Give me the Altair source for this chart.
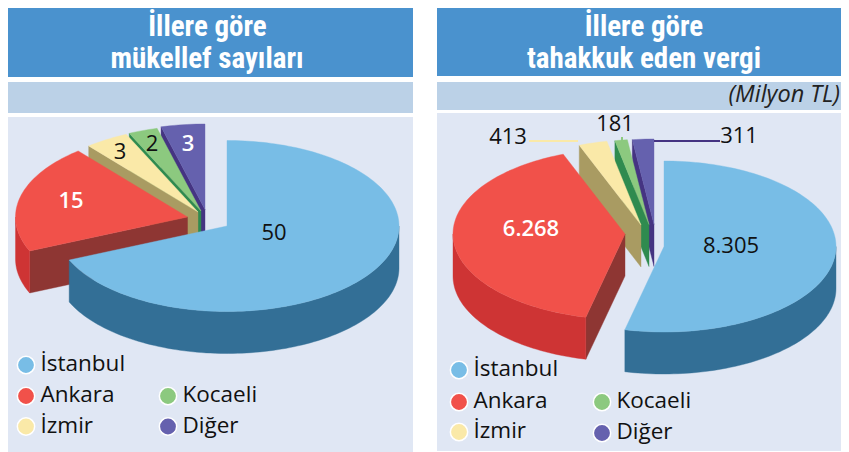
import math
import altair as alt

categories = ["İstanbul", "Ankara", "İzmir", "Kocaeli", "Diğer"]
taxpayers = [50, 15, 3, 2, 3]
assessed_tax = [8305, 6268, 413, 181, 311]
taxpayer_labels = ["50", "15", "3", "2", "3"]
assessed_labels = ["8.305", "6.268", "413", "181", "311"]
title_left = ["İllere göre", "mükellef sayıları"]
title_right = ["İllere göre", "tahakkuk eden vergi"]
unit_label = "(Milyon TL)"

# styles
top_colors = ["#78BDE6", "#F1514A", "#FAE9A8", "#8CC97F", "#6561AE"]
wall_colors = ["#336F96", "#CE3434", "#A99B62", "#2F8B4F", "#453482"]
cut_colors = ["#336F96", "#8E3633", "#A99B62", "#2F8B4F", "#453482"]

# layout (page pixels)
RX, RY, DEPTH = 172, 85.5, 42
left_apex = [(227, 226), (187.5, 217), (198, 212), (201, 211), (205, 209.5)]
right_apex = [(664, 246.5), (625, 234), (641, 225), (649, 224.5), (654, 224.5)]
left_label_pos = [(274, 233), (71, 201), (120, 152), (152, 144), (188, 144)]
right_label_pos = [(731, 246), (531, 229), (508, 137), (615, 124), (739, 136)]
left_label_colors = ["#111111", "white", "#111111", "#111111", "white"]
right_label_colors = ["#111111", "white", "#111111", "#111111", "#111111"]
left_legend = [(26, 365), (26, 396), (26, 426.5), (168, 396), (168, 426.5)]
right_legend = [(459, 370), (459, 402), (459, 432), (602, 402), (602, 433)]
panels = [
    (0, 413, 1, 77, "#4A92CE"), (0, 413, 82, 113, "#BBD1E7"), (0, 413, 117, 452, "#E0E7F4"),
    (437, 849, 1, 76, "#4A92CE"), (437, 849, 82, 110, "#BBD1E7"), (437, 849, 113, 451, "#E0E7F4"),
]
leaders = [(529, 578, 141, 141, "#FAE9A8"), (622, 622, 137, 142, "#8CC97F"), (654, 720, 141, 141, "#453482")]


def rim(apex, t):
    return (apex[0] + RX * math.sin(t), apex[1] - RY * math.cos(t))


def arc_pts(apex, a, b):
    n = max(2, int(abs(b - a) / math.radians(1.5)) + 1)
    return [rim(apex, a + (b - a) * i / n) for i in range(n + 1)]


def feature(pts, color):
    ring = [[round(x, 2), round(y, 2)] for x, y in pts]
    ring.append(ring[0])
    return {"type": "Feature", "properties": {"color": color},
            "geometry": {"type": "Polygon", "coordinates": [ring]}}


def pie_features(values, apexes):
    total = sum(values)
    feats = []
    angles = []
    t = 0.0
    for v in values:
        angles.append((t, t + 2 * math.pi * v / total))
        t += 2 * math.pi * v / total
    for i in reversed(range(len(values))):
        a, b = angles[i]
        ap = apexes[i]
        if a > math.pi:  # the cut face on the start side looks at the viewer
            r = rim(ap, a)
            feats.append(feature([ap, r, (r[0], r[1] + DEPTH), (ap[0], ap[1] + DEPTH)], cut_colors[i]))
        lo, hi = max(a, math.pi / 2), min(b, 3 * math.pi / 2)
        if lo < hi:
            pts = arc_pts(ap, lo, hi)
            feats.append(feature(pts + [(x, y + DEPTH) for x, y in reversed(pts)], wall_colors[i]))
        feats.append(feature([ap] + arc_pts(ap, a, b), top_colors[i]))
    return feats


features = pie_features(taxpayers, left_apex) + pie_features(assessed_tax, right_apex)

X = alt.Scale(domain=[8, 841], range=[0, 833], nice=False, zero=False)
Y = alt.Scale(domain=[8, 452], range=[0, 444], nice=False, zero=False)


def xe(f="x"):
    return alt.X(f"{f}:Q", scale=X, axis=None)


def ye(f="y"):
    return alt.Y(f"{f}:Q", scale=Y, axis=None)


panel_rows = [dict(x=max(a, 8), x2=min(b, 841), y=max(c, 8), y2=d, c=e) for a, b, c, d, e in panels]
panel_layer = alt.Chart(alt.Data(values=panel_rows)).mark_rect(strokeWidth=0).encode(
    x=xe(), x2="x2:Q", y=ye(), y2="y2:Q", color=alt.Color("c:N", scale=None))

pie_layer = alt.Chart(alt.Data(values=features)).mark_geoshape(strokeWidth=0.4).encode(
    color=alt.Color(field="properties.color", type="nominal", scale=None),
    stroke=alt.Color(field="properties.color", type="nominal", scale=None),
).project(type="identity", scale=1, translate=[-8, -8])

leader_rows = [dict(x=a, x2=b, y=c, y2=d, c=e) for a, b, c, d, e in leaders]
leader_layer = alt.Chart(alt.Data(values=leader_rows)).mark_rule(strokeWidth=2).encode(
    x=xe(), x2="x2:Q", y=ye(), y2="y2:Q", color=alt.Color("c:N", scale=None))

label_rows = [dict(t=s, x=p[0], y=p[1], c=c) for s, p, c in zip(taxpayer_labels, left_label_pos, left_label_colors)]
label_rows += [dict(t=s, x=p[0], y=p[1], c=c) for s, p, c in zip(assessed_labels, right_label_pos, right_label_colors)]
dark_rows = [r for r in label_rows if r["c"] != "white"]
light_rows = [r for r in label_rows if r["c"] == "white"]
label_layer = alt.Chart(alt.Data(values=dark_rows)).mark_text(
    font="Open Sans", fontSize=22, align="center", baseline="middle").encode(
    x=xe(), y=ye(), text="t:N", color=alt.Color("c:N", scale=None))
light_layer = alt.Chart(alt.Data(values=light_rows)).mark_text(
    font="Open Sans", fontSize=22, fontWeight=600, align="center", baseline="middle").encode(
    x=xe(), y=ye(), text="t:N", color=alt.Color("c:N", scale=None))

title_rows = [dict(t=title_left[0], x=207.5, y=36), dict(t=title_left[1], x=207, y=68),
              dict(t=title_right[0], x=644, y=36), dict(t=title_right[1], x=644, y=68)]
title_layer = alt.Chart(alt.Data(values=title_rows)).mark_text(
    font="Roboto Condensed, DejaVu Sans Condensed, Liberation Sans", fontWeight="bold", fontSize=29, color="white",
    align="center", baseline="alphabetic").encode(x=xe(), y=ye(), text="t:N")

unit_layer = alt.Chart(alt.Data(values=[dict(t=unit_label, x=840, y=95)])).mark_text(
    font="Open Sans", fontStyle="italic", fontSize=23.5, color="#222222",
    align="right", baseline="middle").encode(x=xe(), y=ye(), text="t:N")

legend_rows = [dict(x=p[0], y=p[1], c=c) for p, c in zip(left_legend + right_legend, top_colors + top_colors)]
legend_points = alt.Chart(alt.Data(values=legend_rows)).mark_point(
    filled=True, shape="circle", size=300, opacity=1, stroke="white", strokeWidth=1.5).encode(
    x=xe(), y=ye(), fill=alt.Fill("c:N", scale=None))

legend_text_rows = [dict(t=n, x=p[0] + 14.5, y=p[1] - 1) for p, n in zip(left_legend + right_legend, categories + categories)]
legend_text = alt.Chart(alt.Data(values=legend_text_rows)).mark_text(
    font="Open Sans", fontSize=22.5, color="#111111", align="left", baseline="middle").encode(
    x=xe(), y=ye(), text="t:N")

chart = alt.layer(panel_layer, pie_layer, leader_layer, label_layer, light_layer, title_layer, unit_layer,
                  legend_points, legend_text).properties(
    width=833, height=444, padding=0, background="white",
    autosize=alt.AutoSizeParams(type="none"),
).configure_view(stroke=None)

chart.save("out.html", embed_options={"renderer": "svg", "actions": False})
